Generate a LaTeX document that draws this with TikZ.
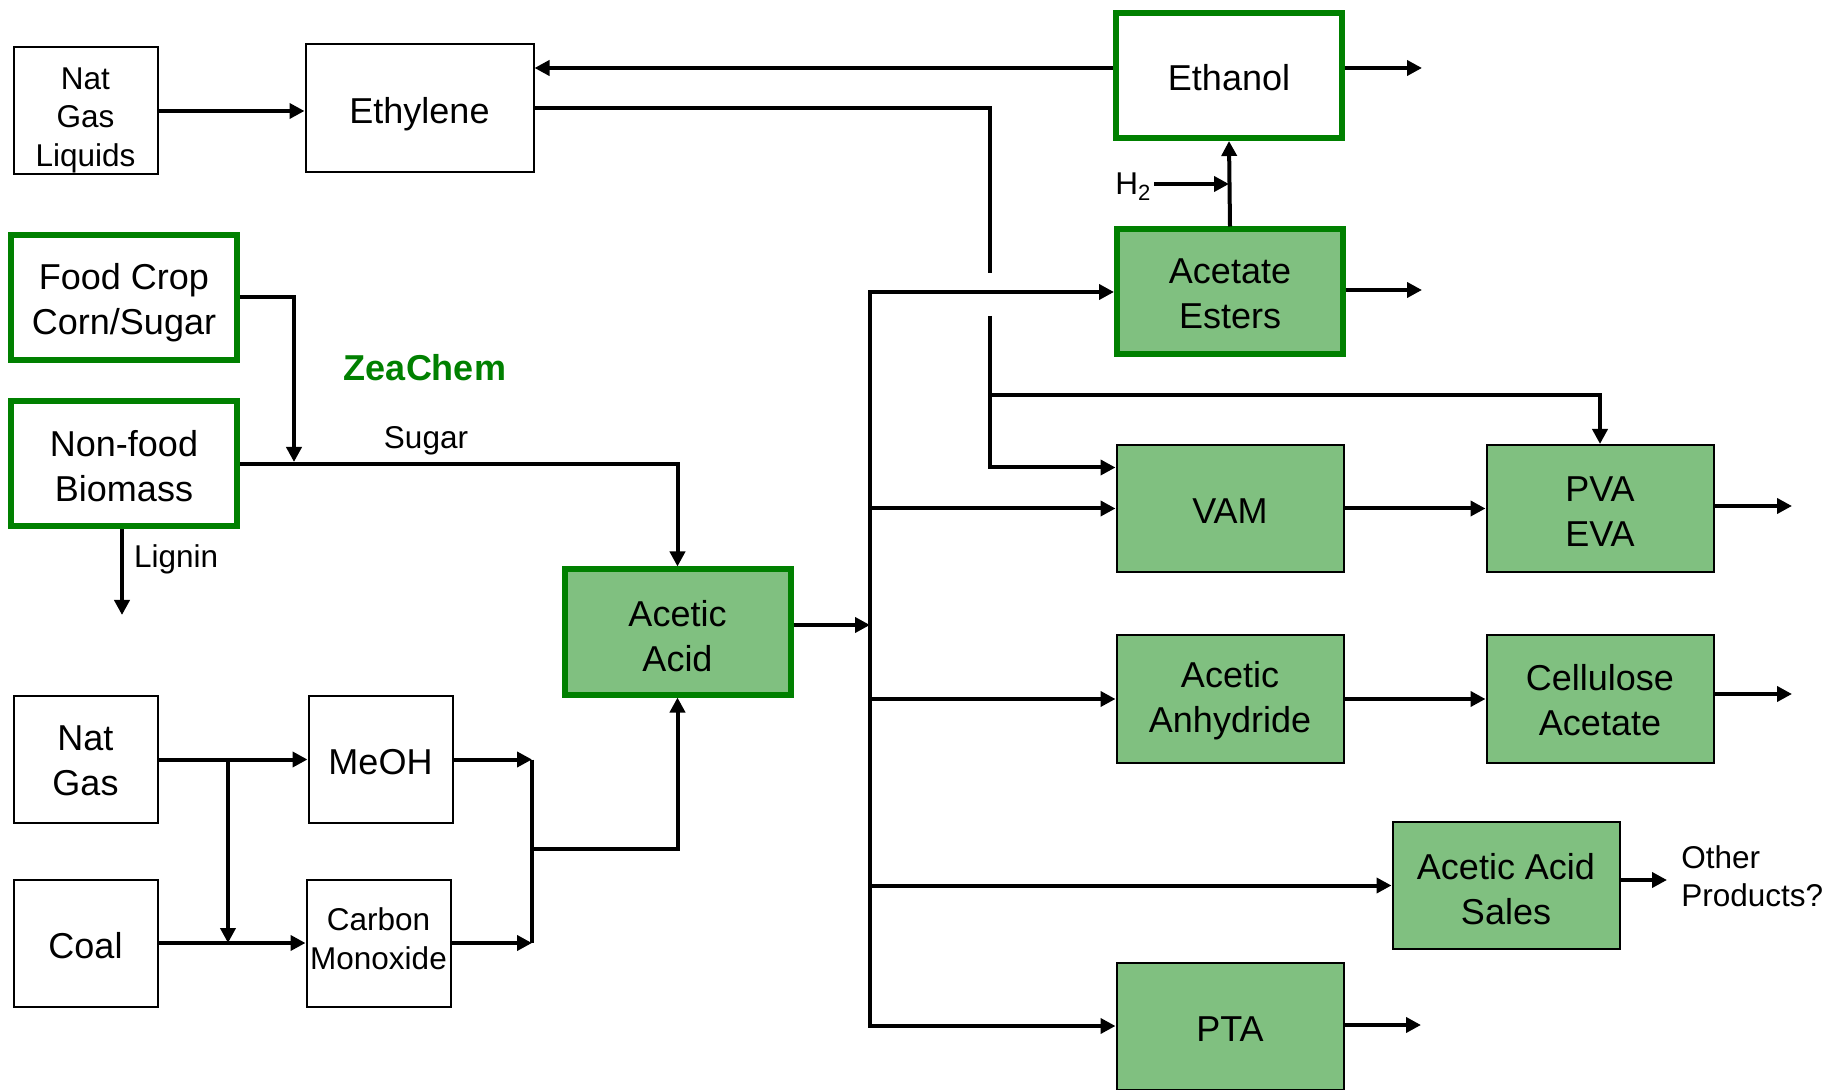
\documentclass[tikz,border=0pt]{standalone}
\usepackage{fontspec}
\setmainfont{Liberation Sans}
\usetikzlibrary{arrows.meta, positioning, calc}
\definecolor{zeagreen}{HTML}{008000}
\definecolor{prodfill}{HTML}{80C080}

\begin{document}
\begin{tikzpicture}[
    x=0.5pt, y=-0.5pt,
    every node/.style={font=\fontsize{18}{22.5}\selectfont, align=center, inner sep=0pt},
    drop/.style={execute at begin node={\rule{0pt}{#1}}},
    lift/.style={execute at begin node={}, execute at end node={\rule[-#1]{0pt}{#1}}},
    rawbox/.style={draw, line width=1pt, fill=white, minimum width=72pt,
                   minimum height=63.5pt, drop=15.5pt},
    midbox/.style={rawbox, minimum width=114pt, minimum height=64pt},
    keybox/.style={draw=zeagreen, line width=3pt, fill=white, minimum width=113pt,
                   minimum height=62.5pt, drop=15.5pt},
    keyprod/.style={keybox, fill=prodfill},
    prodbox/.style={draw, line width=1pt, fill=prodfill, minimum width=113.5pt,
                    minimum height=63.5pt, drop=15.5pt},
    smalltext/.style={font=\fontsize{15.75}{19.2}\selectfont},
    flow/.style={line width=2pt},
    arr/.style={flow, -{Triangle[length=7.5pt, width=7.5pt]}}
  ]
    \clip (0,0) rectangle (1831,1090);

    % feedstocks and products
    \node[rawbox, smalltext, drop=58.5pt] (ngl) at (85.5,111) {Nat\\Gas\\Liquids};
    \node[midbox, drop=18.9pt] (eth) at (419.5,108.5) {Ethylene};
    \node[keybox] (etoh) at (1229,75.5) {Ethanol};
    \node[keyprod, drop=36.6pt] (ester) at (1230,292) {Acetate\\Esters};
    \node[keybox, drop=40.6pt] (food) at (124,297.5) {Food Crop\\Corn/Sugar};
    \node[keybox, drop=37.2pt] (bio) at (124,464) {Non-food\\Biomass};
    \node[keyprod, drop=39.4pt] (acid) at (677.5,632) {Acetic\\Acid};
    \node[prodbox] (vam) at (1230,508.5) {VAM};
    \node[prodbox, drop=37.8pt] (pva) at (1600,508.5) {PVA\\EVA};
    \node[prodbox, drop=37.2pt] (anh) at (1230,699) {Acetic\\Anhydride};
    \node[prodbox, drop=36.6pt] (cell) at (1600,699) {Cellulose\\Acetate};
    \node[prodbox, drop=38.9pt] (sales) at (1506,885.5) {Acetic Acid\\Sales};
    \node[prodbox] (pta) at (1230,1026) {PTA};
    \node[rawbox, drop=36.6pt] (ng) at (85.5,759.5) {Nat\\Gas};
    \node[rawbox] (coal) at (85.5,943) {Coal};
    \node[rawbox] (meoh) at (380.5,759.5) {MeOH};
    \node[rawbox, smalltext, lift=4.6pt] (co) at (378.5,943) {Carbon\\Monoxide};

    % labels
    \node[font=\fontsize{18}{21}\selectfont\bfseries, text=zeagreen] (zea) at (425,368) {ZeaChem};
    \node[smalltext] (sugar) at (426,441) {Sugar};
    \node[smalltext, anchor=base west] (h2) at (1115,195) {H\textsubscript{2}};
    \node[smalltext, anchor=west, align=left] (other) at (1681,876) {Other\\Products?};

    % junctions and free ends
    \coordinate (gapT) at (990,273);
    \coordinate (gapB) at (990,316);
    \coordinate (pvaT) at (990,395);
    \coordinate (busT) at (870,292);
    \coordinate (busB) at (870,1026);
    \coordinate (h2in) at (1154,184);
    \coordinate (fj) at (294,462);
    \coordinate (lig) at (122,615);
    \coordinate (split) at (228,759.5);
    \coordinate (mj) at (532,759.5);
    \coordinate (cj) at (532,943);
    \coordinate (aj) at (532,849);
    \coordinate (etohout) at (1422,68);
    \coordinate (esterout) at (1422,290);
    \coordinate (pvaout) at (1792,506);
    \coordinate (cellout) at (1792,694);
    \coordinate (salesout) at (1667,880);
    \coordinate (ptaout) at (1421,1025);

    % ethylene / ethanol
    \draw[arr] (ngl.east) -- (ngl.east -| eth.west);
    \draw[arr] ([yshift=3.75pt]etoh.west) -- ([yshift=3.75pt]etoh.west -| eth.east);
    \draw[arr] (etoh.east |- etohout) -- (etohout);
    \draw[flow] (eth.east) -| (gapT);
    \draw[arr] (gapB) |- ([yshift=20.5pt]vam.west);
    \draw[arr] (pvaT) -| (pva.north);
    \draw[arr] (ester.north) -- (etoh.south);
    \draw[arr] (h2in) -- (h2in -| etoh.south);
    \draw[arr] (ester.east |- esterout) -- (esterout);

    % biomass route
    \draw[arr] (food.east) -| (fj);
    \draw[arr] (bio.east) -| (acid.north);
    \draw[arr] (bio.south -| lig) -- node[smalltext, right=5pt, pos=0.35] {Lignin} (lig);

    % acetic acid bus
    \draw[arr] ([yshift=3.5pt]acid.east) -- ([yshift=3.5pt]acid.east -| busT);
    \draw[arr] (busB) |- (ester.west);
    \draw[arr] (busT) |- (pta.west);
    \draw[arr] (busT |- vam.west) -- (vam.west);
    \draw[arr] (busT |- anh.west) -- (anh.west);
    \draw[arr] (busT |- sales.west) -- (sales.west);
    \draw[arr] (vam.east) -- (pva.west);
    \draw[arr] (anh.east) -- (cell.west);
    \draw[arr] (pva.east |- pvaout) -- (pvaout);
    \draw[arr] (cell.east |- cellout) -- (cellout);
    \draw[arr] (sales.east |- salesout) -- (salesout);
    \draw[arr] (pta.east |- ptaout) -- (ptaout);

    % syngas route
    \draw[arr] (ng.east) -- (meoh.west);
    \draw[arr] (split) -- (split |- coal.east);
    \draw[arr] (coal.east) -- (co.west);
    \draw[arr] (meoh.east) -- (mj);
    \draw[arr] (co.east) -- (cj);
    \draw[flow] (mj) -- (cj);
    \draw[arr] (aj) -| (acid.south);
  \end{tikzpicture}
\end{document}
